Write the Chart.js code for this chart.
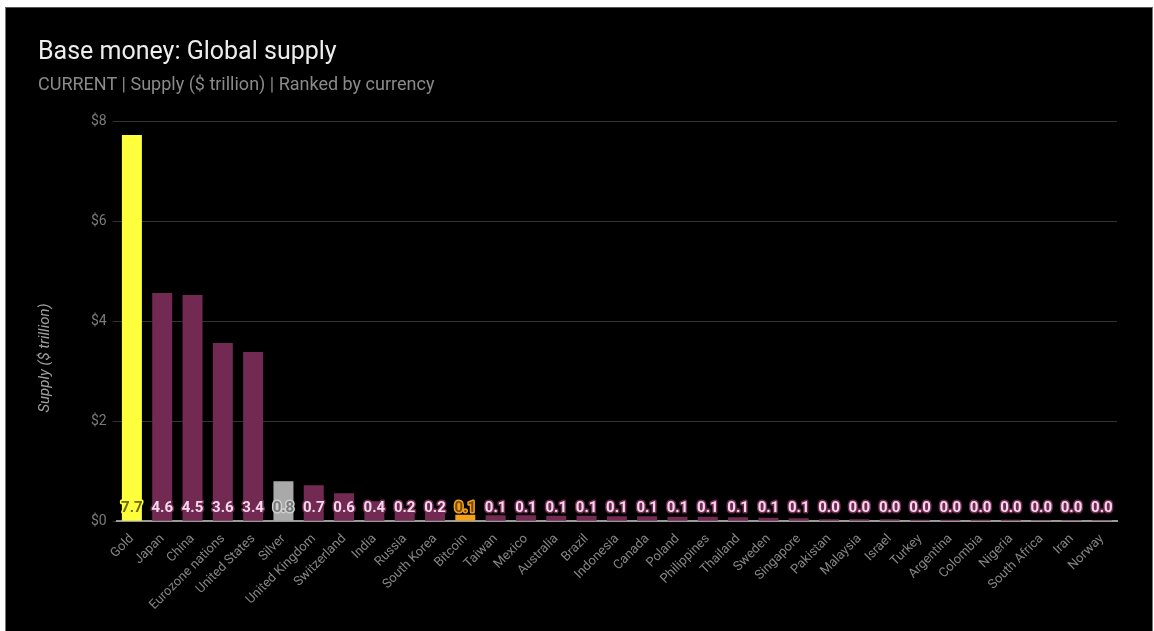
<!DOCTYPE html>
<html>
<head>
<meta charset="utf-8">
<script src="https://cdn.jsdelivr.net/npm/chart.js@4"></script>
<style>
  html, body { margin: 0; padding: 0; background: #fff; }
  #frame {
    position: absolute; left: 5px; top: 7px; width: 1146px; height: 624px;
    background: #000; border-left: 1px solid #777; border-right: 1px solid #777;
    border-top: 1px solid #555;
  }
  #frame canvas { display: block; }
</style>
</head>
<body>
<div id="frame"><canvas id="supplyChart" width="1146" height="624"></canvas></div>
<script>
const categorias = ["Gold", "Japan", "China", "Eurozone nations", "United States", "Silver",
  "United Kingdom", "Switzerland", "India", "Russia", "South Korea", "Bitcoin", "Taiwan",
  "Mexico", "Australia", "Brazil", "Indonesia", "Canada", "Poland", "Philippines", "Thailand",
  "Sweden", "Singapore", "Pakistan", "Malaysia", "Israel", "Turkey", "Argentina", "Colombia",
  "Nigeria", "South Africa", "Iran", "Norway"];

// $ trillion
const supply = [7.72, 4.56, 4.52, 3.56, 3.38, 0.8,
  0.72, 0.56, 0.4, 0.21, 0.19, 0.13, 0.12,
  0.12, 0.11, 0.11, 0.1, 0.1, 0.09, 0.09, 0.08,
  0.07, 0.06, 0.04, 0.04, 0.04, 0.03, 0.03, 0.03,
  0.03, 0.02, 0.02, 0.02];

const yTicks = [0, 2, 4, 6, 8];

const titulo = "Base money: Global supply";
const subtitulo = "CURRENT | Supply ($ trillion) | Ranked by currency";
const eixoY = "Supply ($ trillion)";

// cores especiais por categoria
const corEspecial = {
  "Gold": { bar: "#FFFF3C", fill: "#6E6A10", stroke: "#FFFF3C" },
  "Silver": { bar: "#A9A9A9", fill: "#7A7A7A", stroke: "#CFCFCF" },
  "Bitcoin": { bar: "#F3A21C", fill: "#7A4A00", stroke: "#F3A21C" },
};
const corPadrao = { bar: "#722A53", fill: "#F4D8EC", stroke: "#722A53" };
const estilo = (nome) => corEspecial[nome] || corPadrao;

const rotulosPlugin = {
  id: "rotulos",
  afterDatasetsDraw(chart) {
    const ctx = chart.ctx;
    const meta = chart.getDatasetMeta(0);
    const base = chart.scales.y.getPixelForValue(0);
    ctx.save();
    ctx.font = "bold 15px Roboto";
    ctx.textAlign = "center";
    ctx.textBaseline = "middle";
    ctx.lineJoin = "round";
    meta.data.forEach((bar, i) => {
      const s = estilo(categorias[i]);
      const txt = supply[i].toFixed(1);
      ctx.lineWidth = 3;
      ctx.strokeStyle = s.stroke;
      ctx.strokeText(txt, bar.x, base - 13);
      ctx.fillStyle = s.fill;
      ctx.fillText(txt, bar.x, base - 13);
    });
    ctx.restore();
  },
};

const textosPlugin = {
  id: "textos",
  afterDraw(chart) {
    const ctx = chart.ctx;
    ctx.save();
    ctx.textAlign = "left";
    ctx.textBaseline = "alphabetic";
    ctx.fillStyle = "#EDEDED";
    ctx.font = "25px Roboto";
    ctx.fillText(titulo, 32, 51);
    ctx.fillStyle = "#8A8A8A";
    ctx.font = "18px Roboto";
    ctx.fillText(subtitulo, 32, 82);
    // titulo do eixo y
    ctx.translate(39, 350);
    ctx.rotate(-Math.PI / 2);
    ctx.textAlign = "center";
    ctx.textBaseline = "middle";
    ctx.fillStyle = "#A0A0A0";
    ctx.font = "italic 15px Roboto";
    ctx.fillText(eixoY, 0, 0);
    ctx.restore();
  },
};

const canvas = document.getElementById("supplyChart");
new Chart(canvas.getContext("2d"), {
  type: "bar",
  data: {
    labels: categorias,
    datasets: [{
      label: "Supply",
      data: supply,
      backgroundColor: categorias.map((c) => estilo(c).bar),
      barPercentage: 0.66,
      categoryPercentage: 1,
    }],
  },
  options: {
    responsive: false,
    animation: false,
    layout: { padding: { top: 113, left: 79, right: 35, bottom: 17 } },
    plugins: { legend: { display: false }, tooltip: { enabled: false } },
    scales: {
      y: {
        min: 0, max: 8,
        afterBuildTicks(scale) { scale.ticks = yTicks.map((v) => ({ value: v })); },
        ticks: {
          color: "#7A7A7A",
          font: { family: "Roboto", size: 14 },
          padding: 6,
          callback: (v) => "$" + v,
        },
        grid: { color: "#333333", tickLength: 4, lineWidth: 1 },
        border: { display: false },
      },
      x: {
        ticks: {
          color: "#858585",
          font: { family: "Roboto", size: 13 },
          minRotation: 45, maxRotation: 45,
          autoSkip: false,
          padding: 2,
        },
        grid: { display: false },
        border: { color: "#9A9A9A", width: 2 },
      },
    },
  },
  plugins: [rotulosPlugin, textosPlugin],
});
</script>
</body>
</html>
